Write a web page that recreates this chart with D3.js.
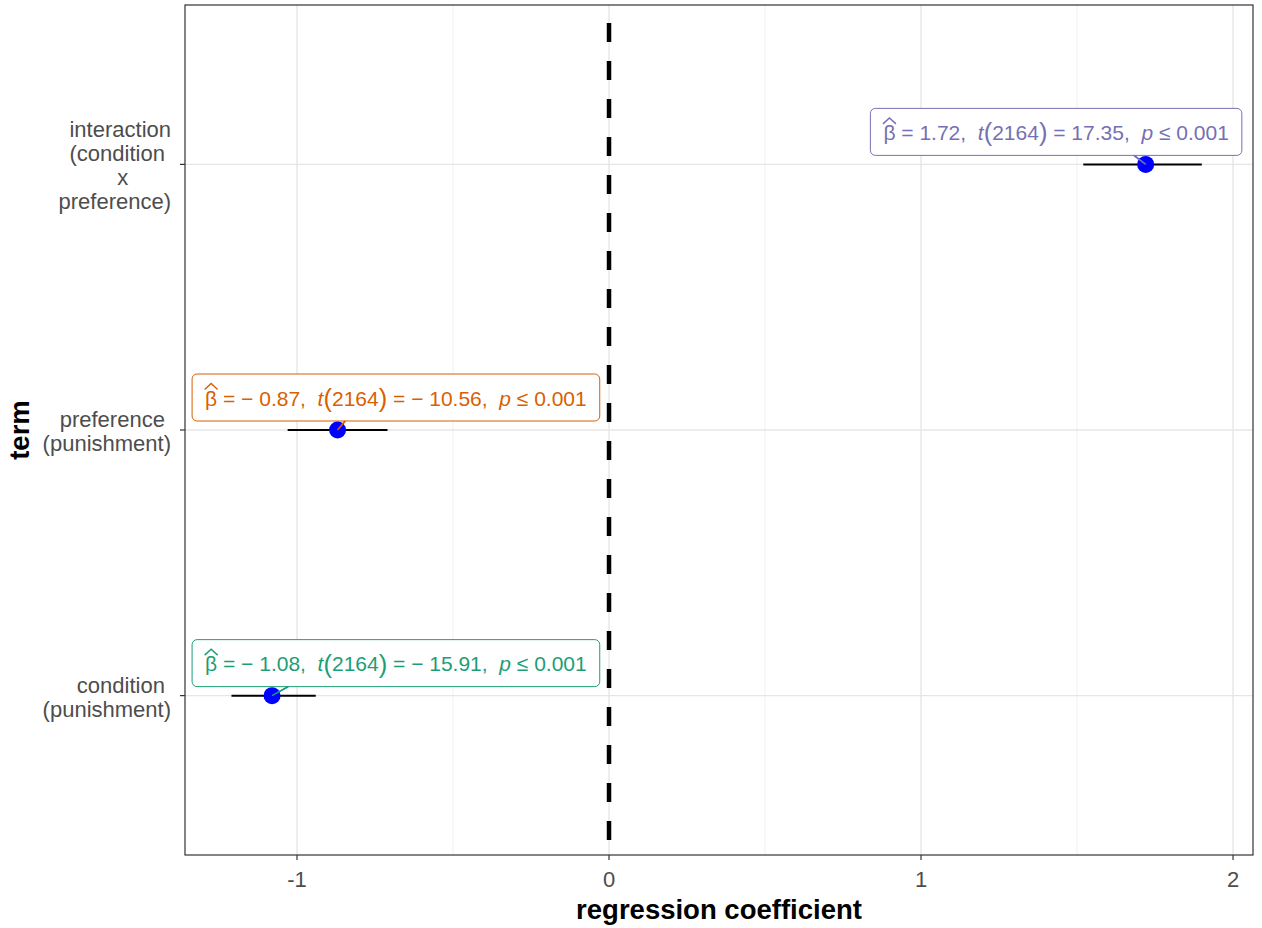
<!DOCTYPE html>
<html>
<head>
<meta charset="utf-8">
<script src="https://cdn.jsdelivr.net/npm/d3@7"></script>
<style>
  html, body { margin: 0; padding: 0; background: #fff; }
  svg text { font-family: "Liberation Sans", Arial, sans-serif; }
</style>
</head>
<body>
<div id="chart"></div>
<script>
// model terms, bottom to top
const terms = ['condition', 'preference', 'interaction'];
const termLabels = [
  ['condition ', '(punishment)'],
  ['preference ', '(punishment)'],
  ['interaction', '(condition ', 'x       ', 'preference)'],
];
const estimates = [-1.08, -0.87, 1.72];
const ciLow = [-1.21, -1.03, 1.52];
const ciHigh = [-0.94, -0.71, 1.90];
const tValues = ['\u2212 15.91', '\u2212 10.56', '17.35'];
const betaText = ['\u2212 1.08', '\u2212 0.87', '1.72'];
const dfText = '2164';
const pText = '0.001';
const labelColors = ['#1B9E77', '#D95F02', '#7570B3'];
// where ggrepel put each label (centre, in data units of x)
const labelX = [-0.683, -0.683, 1.433];
const xTicks = [-1, 0, 1, 2];
const xMinor = [-0.5, 0.5, 1.5];

const W = 1262, H = 928;
const m = { top: 5, right: 9, bottom: 73, left: 185 };
const pw = W - m.left - m.right, ph = H - m.top - m.bottom;

const svg = d3.select('#chart').append('svg').attr('width', W).attr('height', H);
const g = svg.append('g').attr('transform', `translate(${m.left},${m.top})`);

const x = d3.scaleLinear().domain([-1.359, 2.064]).range([0, pw]);
const y = d3.scalePoint().domain(terms).range([ph, 0]).padding(0.6);

// grid
g.selectAll('.minor').data(xMinor).join('line')
  .attr('x1', d => x(d)).attr('x2', d => x(d)).attr('y1', 0).attr('y2', ph)
  .attr('stroke', '#EBEBEB').attr('stroke-width', 0.7);
g.selectAll('.majx').data(xTicks).join('line')
  .attr('x1', d => x(d)).attr('x2', d => x(d)).attr('y1', 0).attr('y2', ph)
  .attr('stroke', '#E6E6E6').attr('stroke-width', 1.4);
g.selectAll('.majy').data(terms).join('line')
  .attr('x1', 0).attr('x2', pw).attr('y1', d => y(d)).attr('y2', d => y(d))
  .attr('stroke', '#E6E6E6').attr('stroke-width', 1.4);

// zero line
g.append('line')
  .attr('x1', x(0)).attr('x2', x(0)).attr('y1', 0).attr('y2', ph)
  .attr('stroke', '#000').attr('stroke-width', 4.5)
  .attr('stroke-dasharray', '19 19').attr('stroke-dashoffset', 20);

// error bars
g.selectAll('.ci').data(terms).join('line')
  .attr('x1', (d, i) => x(ciLow[i])).attr('x2', (d, i) => x(ciHigh[i]))
  .attr('y1', d => y(d)).attr('y2', d => y(d))
  .attr('stroke', '#000').attr('stroke-width', 2);

// labels
const fs = 21;
terms.forEach((t, i) => {
  const px = x(estimates[i]), py = y(t);
  const cx = x(labelX[i]), cy = py - 32.5;
  const lg = g.append('g');
  const txt = lg.append('text').attr('font-size', fs).attr('fill', labelColors[i])
    .attr('y', cy + 8).style('white-space', 'pre');
  const beta = txt.append('tspan').text('\u03B2');
  txt.append('tspan').text(' = ' + betaText[i] + ',  ');
  txt.append('tspan').attr('font-style', 'italic').text('t');
  txt.append('tspan').attr('font-size', fs * 1.22).attr('dy', 1.5).text('(');
  txt.append('tspan').attr('dy', -1.5).text(dfText);
  txt.append('tspan').attr('font-size', fs * 1.22).attr('dy', 1.5).text(')');
  txt.append('tspan').attr('dy', -1.5).text(' = ' + tValues[i] + ',  ');
  txt.append('tspan').attr('font-style', 'italic').text('p');
  txt.append('tspan').text(' \u2264 ' + pText);
  const tw = txt.node().getComputedTextLength();
  txt.attr('x', cx - tw / 2);
  const bw = tw + 26, bh = 47;
  const bx = cx - bw / 2, by = cy - bh / 2;
  // short leader from point up to the box bottom
  const ex = px + (cx - px) * 0.13, ey = by + bh;
  lg.insert('line', 'text')
    .attr('x1', px).attr('y1', py).attr('x2', ex).attr('y2', ey)
    .attr('stroke', labelColors[i]).attr('stroke-width', 1.6);
  lg.insert('rect', 'line')
    .attr('x', bx).attr('y', by).attr('width', bw).attr('height', bh)
    .attr('rx', 5).attr('fill', '#fff').attr('stroke', labelColors[i]).attr('stroke-width', 1);
  // hat over beta
  const bb = beta.node().getBBox();
  const hx = bb.x + bb.width / 2, hy = bb.y + 1;
  lg.append('path')
    .attr('d', `M${hx - 6.5},${hy + 2}L${hx},${hy - 4}L${hx + 6.5},${hy + 2}`)
    .attr('fill', 'none').attr('stroke', labelColors[i]).attr('stroke-width', 1.4);
});

// points
g.selectAll('.pt').data(terms).join('circle')
  .attr('cx', (d, i) => x(estimates[i])).attr('cy', d => y(d)).attr('r', 8.5)
  .attr('fill', '#0000FF');
// leader tip is drawn over the point
terms.forEach((t, i) => {
  const px = x(estimates[i]), py = y(t);
  const cx = x(labelX[i]);
  const ex = px + (cx - px) * 0.13, ey = py - 32.5 + 23.5;
  g.append('line').attr('x1', px).attr('y1', py).attr('x2', ex).attr('y2', ey)
    .attr('stroke', labelColors[i]).attr('stroke-width', 1.6);
});

// panel border
g.append('rect').attr('width', pw).attr('height', ph)
  .attr('fill', 'none').attr('stroke', '#333').attr('stroke-width', 1.2);

// x axis
const xa = g.append('g').attr('transform', `translate(0,${ph})`);
xa.selectAll('line').data(xTicks).join('line')
  .attr('x1', d => x(d)).attr('x2', d => x(d)).attr('y1', 0).attr('y2', 5)
  .attr('stroke', '#333').attr('stroke-width', 1.2);
xa.selectAll('text').data(xTicks).join('text')
  .attr('x', d => x(d)).attr('y', 32).attr('text-anchor', 'middle')
  .attr('font-size', 22).attr('fill', '#4D4D4D').text(d => d);

// y axis
const ya = g.append('g');
ya.selectAll('line').data(terms).join('line')
  .attr('x1', -5).attr('x2', 0).attr('y1', d => y(d)).attr('y2', d => y(d))
  .attr('stroke', '#333').attr('stroke-width', 1.2);
terms.forEach((t, i) => {
  const lines = termLabels[i];
  const lh = 24;
  const y0 = y(t) - (lines.length - 1) * lh / 2 + 9;
  const tx = ya.append('text').attr('text-anchor', 'end').attr('font-size', 22)
    .attr('fill', '#4D4D4D').style('white-space', 'pre');
  lines.forEach((l, k) => tx.append('tspan').attr('x', -14).attr('y', y0 + k * lh).text(l));
});

// titles
svg.append('text').attr('x', m.left + pw / 2).attr('y', 919).attr('text-anchor', 'middle')
  .attr('font-size', 27.5).attr('font-weight', 'bold').attr('fill', '#000').text('regression coefficient');
svg.append('text').attr('transform', `translate(29,${m.top + ph / 2}) rotate(-90)`)
  .attr('text-anchor', 'middle').attr('font-size', 27.5).attr('font-weight', 'bold')
  .attr('fill', '#000').text('term');
</script>
</body>
</html>
